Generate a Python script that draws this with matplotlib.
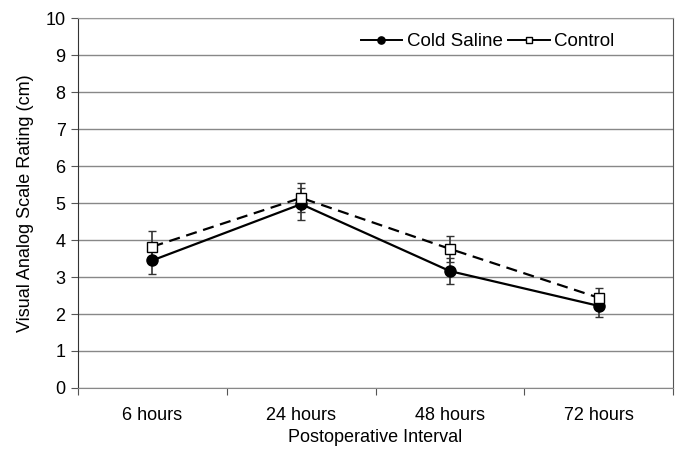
import matplotlib
matplotlib.use("Agg")
import matplotlib.pyplot as plt

intervals = ["6 hours", "24 hours", "48 hours", "72 hours"]
cold_saline = [3.45, 4.97, 3.16, 2.22]
cold_saline_err = [0.38, 0.43, 0.36, 0.31]
control = [3.82, 5.14, 3.76, 2.44]
control_err = [0.43, 0.39, 0.35, 0.25]

plt.rcParams["font.family"] = ["Liberation Sans", "DejaVu Sans"]

fig = plt.figure(figsize=(6.76, 4.51), dpi=100)
ax = fig.add_axes([0.1154, 0.1397, 0.8802, 0.8203])

x = list(range(len(intervals)))

# error bars first, then the lines with markers on top
ax.errorbar(x, cold_saline, yerr=cold_saline_err, fmt="none",
            ecolor="#333333", elinewidth=1.2, capsize=3, zorder=2)
ax.errorbar(x, control, yerr=control_err, fmt="none",
            ecolor="#333333", elinewidth=1.2, capsize=3, zorder=2)
ax.plot(x, cold_saline, color="black", linewidth=1.6, marker="o",
        markersize=8, markerfacecolor="black", label="Cold Saline", zorder=3)
ax.plot(x, control, color="black", linewidth=1.6, linestyle=(0, (5, 3)),
        marker="s", markersize=7, markerfacecolor="white",
        markeredgecolor="black", markeredgewidth=1, label="Control", zorder=4)

ax.set_xlim(-0.5, 3.5)
ax.set_ylim(0, 10)
ax.set_yticks(range(0, 11))
ax.set_xticks([-0.5, 0.5, 1.5, 2.5, 3.5])
ax.set_xticklabels([])
ax.set_xticks(x, minor=True)
ax.set_xticklabels(intervals, minor=True)
ax.tick_params(axis="x", which="minor", length=0, pad=14, labelsize=13)
ax.tick_params(axis="x", which="major", length=5, color="#555555")
ax.tick_params(axis="y", length=5, color="#555555", labelsize=13, pad=4)

ax.grid(axis="y", color="#888888", linewidth=1.0)
ax.set_axisbelow(True)
ax.spines["top"].set_color("#999999")
ax.spines["left"].set_color("#333333")
ax.spines["right"].set_color("#555555")
ax.spines["bottom"].set_color("#888888")

ax.set_xlabel("Postoperative Interval", fontsize=13, labelpad=3)
ax.set_ylabel("Visual Analog Scale Rating (cm)", fontsize=13, labelpad=8)

leg = ax.legend(loc="upper right", bbox_to_anchor=(0.93, 1.005), ncol=2,
                frameon=False, fontsize=13.5, handlelength=2.2,
                columnspacing=0.3, handletextpad=0.25, markerscale=0.65)
for line in leg.get_lines():
    line.set_linestyle("-")
    line.set_linewidth(1.4)

fig.savefig("out.png", dpi=100)
